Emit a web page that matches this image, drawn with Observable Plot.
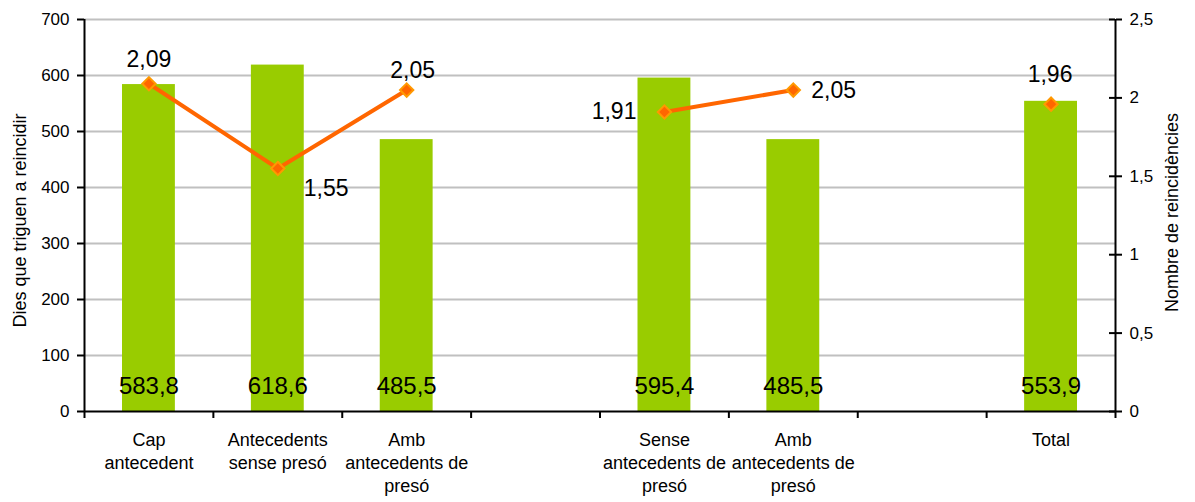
<!DOCTYPE html>
<html><head><meta charset="utf-8">
<script src="https://cdn.jsdelivr.net/npm/d3@7"></script>
<script src="https://cdn.jsdelivr.net/npm/@observablehq/plot@0.6"></script>
<style>
body{margin:0;background:#fff;font-family:"Liberation Sans",Arial,sans-serif}
#wrap{position:relative;width:1195px;height:502px}
#wrap svg{position:absolute;left:0;top:0}
</style>
</head><body><div id="wrap"></div>
<script>
// ---- data ----
const keys = ["c0","c1","c2","gap1","c4","c5","gap2","c7"];
const categories = ["Cap\nantecedent","Antecedents\nsense presó","Amb\nantecedents de\npresó","","Sense\nantecedents de\npresó","Amb\nantecedents de\npresó","","Total"];
const dies = [583.8, 618.6, 485.5, null, 595.4, 485.5, null, 553.9];
const reincidencies = [2.09, 1.55, 2.05, null, 1.91, 2.05, null, 1.96];
const leftTicks = [0,100,200,300,400,500,600,700];
const rightTicks = [0,0.5,1,1.5,2,2.5];
const leftTitle = "Dies que triguen a reincidir";
const rightTitle = "Nombre de reincidències";
// label placement (style)
const labelAnchor = ["middle","start","middle",null,"end","start",null,"middle"];
const labelDx = [0, 26, 6, 0, -28, 18, 0, -1];
const labelDy = [-24, 20, -19, 0, 0, 1, 0, -30];

// ---- layout ----
const W = 1195, H = 502, mL = 84, mR = 80, mT = 19, mB = 91;
const half = (W - mL - mR) / keys.length / 2;
const font = '"Liberation Sans", Arial, sans-serif';
const comma = d => String(d).replace(".", ",");
const labelOf = Object.fromEntries(keys.map((k, i) => [k, categories[i]]));

const rows = keys.map((k, i) => ({key: k, dies: dies[i], r: reincidencies[i], i}));
const bars = rows.filter(d => d.dies != null);
const pts = rows.filter(d => d.r != null);

const plot1 = Plot.plot({
  width: W, height: H, marginLeft: mL, marginRight: mR, marginTop: mT, marginBottom: mB,
  style: {fontFamily: font, fontSize: "17px", color: "#000", background: "transparent"},
  x: {type: "band", domain: keys, padding: 0, round: false},
  y: {domain: [0, 700]},
  marks: [
    Plot.gridY(leftTicks.filter(d => d > 0), {stroke: "#c0c0c0", strokeOpacity: 1, strokeWidth: 2}),
    Plot.barY(bars, {x: "key", y: "dies", fill: "#99cc00", insetLeft: 38, insetRight: 38}),
    Plot.text(bars, {x: "key", y: 0, text: d => d.dies.toFixed(1).replace(".", ","), dy: -25, fontSize: 24, fill: "#000"}),
    Plot.axisY(leftTicks, {tickSize: 7, tickPadding: 8, fontSize: 17, tickFormat: comma, label: null, stroke: "#000", strokeWidth: 2}),
    Plot.axisX(keys, {tickSize: 0, tickPadding: 18, fontSize: 18, lineHeight: 1.28, tickFormat: k => labelOf[k], label: null}),
    Plot.ruleX(keys, {x: d => d, dx: -half, insetTop: H - mT - mB, insetBottom: -7, stroke: "#000", strokeWidth: 2}),
    Plot.ruleX([keys[0]], {x: d => d, dx: -half, stroke: "#000", strokeWidth: 2}),
    Plot.ruleY([0], {stroke: "#000", strokeWidth: 2}),
    Plot.text([leftTitle], {text: d => d, frameAnchor: "left", textAnchor: "middle", rotate: -90, dx: -64, dy: 5, fontSize: 18, fill: "#000"})
  ]
});

const plot2 = Plot.plot({
  width: W, height: H, marginLeft: mL, marginRight: mR, marginTop: mT, marginBottom: mB,
  style: {fontFamily: font, fontSize: "17px", color: "#000", background: "transparent"},
  x: {type: "band", domain: keys, padding: 0, round: false, axis: null},
  y: {domain: [0, 2.5]},
  marks: [
    Plot.ruleX([keys[keys.length - 1]], {x: d => d, dx: half, stroke: "#000", strokeWidth: 2}),
    Plot.ruleX([keys[keys.length - 1]], {x: d => d, dx: half, insetTop: H - mT - mB, insetBottom: -7, stroke: "#000", strokeWidth: 2}),
    Plot.ruleY(rightTicks, {y: d => d, insetLeft: W - mL - mR - 6, stroke: "#000", strokeWidth: 2}),
    Plot.axisY(rightTicks, {anchor: "right", tickSize: 6, tickPadding: 8, fontSize: 17, tickFormat: comma, label: null, stroke: "#000", strokeWidth: 2}),
    Plot.text([rightTitle], {text: d => d, frameAnchor: "right", textAnchor: "middle", rotate: -90, dx: 57, dy: -3, fontSize: 18, fill: "#000"}),
    Plot.line(rows, {x: "key", y: d => d.r == null ? NaN : d.r, stroke: "#ff6600", strokeWidth: 4}),
    Plot.dot(pts, {x: "key", y: "r", symbol: "diamond2", r: 6, fill: "#ff6600", stroke: "#ff9900", strokeWidth: 2}),
    ...pts.map(p => Plot.text([p], {
      x: "key", y: "r", text: d => d.r.toFixed(2).replace(".", ","),
      textAnchor: labelAnchor[p.i], dx: labelDx[p.i], dy: labelDy[p.i], fontSize: 23, fill: "#000"
    }))
  ]
});

document.getElementById("wrap").append(plot1, plot2);
</script>
</body></html>
